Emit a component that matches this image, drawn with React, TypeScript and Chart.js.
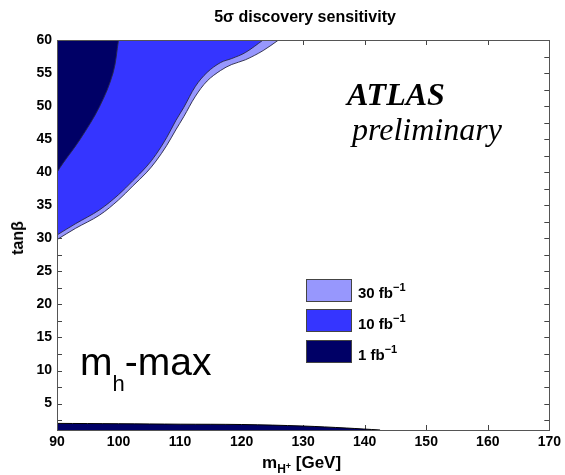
import React, { useEffect, useRef } from "react";
import { Chart, registerables } from "chart.js";

Chart.register(...registerables);

// Axis ticks
const xTicks = [90, 100, 110, 120, 130, 140, 150, 160, 170];
const yTicks = [5, 10, 15, 20, 25, 30, 35, 40, 45, 50, 55, 60];
const yMinorTicks = [2.5, 5, 7.5, 10, 12.5, 15, 17.5, 20, 22.5, 25, 27.5, 30, 32.5, 35, 37.5, 40, 42.5, 45, 47.5, 50, 52.5, 55, 57.5];

// 30 fb^-1 contour (region above-left of the line)
const lightX = [90, 93, 96.9, 100, 102.3, 104.5, 106.1, 107.8, 109.3, 110.6, 112.5, 114.4, 116.6, 118.4, 120.6, 123.5, 126];
const lightY = [29.8, 31.5, 33.5, 35.8, 37.9, 39.9, 41.7, 44.0, 46.4, 48.4, 51.5, 53.8, 55.4, 56.3, 57.0, 58.4, 60];

// 10 fb^-1 contour
const blueX = [90, 93, 96.9, 100, 102.3, 104.5, 106.1, 107.8, 109.3, 110.6, 112.5, 114.4, 116.6, 118.4, 120.6, 123.5];
const blueY = [30.5, 32.2, 34.3, 36.6, 38.7, 40.8, 42.7, 45.2, 47.8, 49.8, 53.0, 55.1, 56.6, 57.2, 58.1, 60];

// 1 fb^-1 contour (upper left)
const darkX = [90, 91, 93.7, 96.9, 99.1, 100];
const darkY = [40, 41.4, 44.9, 49.9, 55, 60];

// 1 fb^-1 contour (low tanβ band)
const bandX = [90, 100, 110, 120, 130, 137, 142.5];
const bandY = [2.0, 1.95, 1.88, 1.83, 1.6, 1.3, 1.0];

const SANS = "'Liberation Sans', Arial, Helvetica, sans-serif";
const SERIF = "'Liberation Serif', 'Times New Roman', serif";

const LIGHT = "#9797FD";
const BLUE = "#3535FF";
const DARK = "#000066";
const EDGE = "rgba(40,40,70,0.9)";

const toPts = (xs: number[], ys: number[]) => xs.map((x, i) => ({ x, y: ys[i] }));

function Txt(props: { x: number; base: number; size: number; children: any; style?: any; center?: boolean }) {
  const { x, base, size, children, style, center } = props;
  return (
    <div
      style={{
        position: "absolute",
        left: x,
        top: base - 0.85 * size,
        fontSize: size,
        lineHeight: `${size}px`,
        whiteSpace: "nowrap",
        transform: center ? "translateX(-50%)" : undefined,
        color: "#000",
        ...style,
      }}
    >
      {children}
    </div>
  );
}

export default function App() {
  const ref = useRef<HTMLCanvasElement>(null);

  useEffect(() => {
    document.body.style.margin = "0";
    const canvas = ref.current!;
    const framePlugin = {
      id: "frame",
      beforeDatasetsDraw(chart: any) {
        const { ctx, chartArea, scales } = chart;
        const { left, right, top, bottom } = chartArea;
        ctx.save();
        ctx.strokeStyle = "#444";
        ctx.lineWidth = 1;
        ctx.beginPath();
        xTicks.forEach((v) => {
          const px = Math.round(scales.x.getPixelForValue(v)) + 0.5;
          ctx.moveTo(px, bottom);
          ctx.lineTo(px, bottom - 5);
          ctx.moveTo(px, top);
          ctx.lineTo(px, top + 5);
        });
        yMinorTicks.forEach((v) => {
          const py = Math.round(scales.y.getPixelForValue(v)) + 0.5;
          ctx.moveTo(left, py);
          ctx.lineTo(left + 5, py);
          ctx.moveTo(right, py);
          ctx.lineTo(right - 5, py);
        });
        ctx.stroke();
        ctx.restore();
      },
      afterDatasetsDraw(chart: any) {
        const { ctx, chartArea } = chart;
        const { left, right, top, bottom } = chartArea;
        ctx.save();
        ctx.strokeStyle = "#555";
        ctx.lineWidth = 1;
        ctx.strokeRect(Math.round(left) + 0.5, Math.round(top) + 0.5, Math.round(right - left), Math.round(bottom - top));
        ctx.restore();
      },
    };

    const common = { showLine: true, pointRadius: 0, borderWidth: 1, borderColor: EDGE, tension: 0.35 };

    const chart = new Chart(canvas, {
      type: "scatter",
      data: {
        datasets: [
          { ...common, data: toPts(lightX, lightY), backgroundColor: LIGHT, fill: "end", order: 4 },
          { ...common, data: toPts(blueX, blueY), backgroundColor: BLUE, fill: "end", order: 3 },
          { ...common, data: toPts(darkX, darkY), backgroundColor: DARK, fill: "end", order: 2 },
          { ...common, data: toPts(bandX, bandY), backgroundColor: DARK, borderColor: "#000", fill: "start", order: 1 },
        ] as any,
      },
      options: {
        responsive: false,
        animation: false,
        devicePixelRatio: 1,
        layout: { padding: { left: 0, right: 12, top: 40, bottom: 0 } },
        plugins: { legend: { display: false }, tooltip: { enabled: false }, title: { display: false } },
        scales: {
          x: {
            type: "linear",
            min: 90,
            max: 170,
            grid: { display: false, drawTicks: false },
            border: { display: false },
            ticks: { stepSize: 10, color: "#000", padding: 4, font: { family: SANS, size: 14, weight: "bold" } },
            afterBuildTicks: (s: any) => {
              s.ticks = xTicks.map((v) => ({ value: v }));
            },
            afterFit: (s: any) => {
              s.height = 45;
            },
          },
          y: {
            type: "linear",
            min: 1,
            max: 60,
            grid: { display: false, drawTicks: false },
            border: { display: false },
            ticks: { color: "#000", padding: 5, font: { family: SANS, size: 14, weight: "bold" } },
            afterBuildTicks: (s: any) => {
              s.ticks = yTicks.map((v) => ({ value: v }));
            },
            afterFit: (s: any) => {
              s.width = 57;
            },
          },
        },
      } as any,
      plugins: [framePlugin],
    });
    return () => chart.destroy();
  }, []);

  const legendBox = (top: number, color: string) => (
    <div
      style={{
        position: "absolute",
        left: 306,
        top,
        width: 44,
        height: 21,
        background: color,
        border: "1px solid #444",
      }}
    />
  );

  const legendText = (base: number, num: string) => (
    <Txt x={358} base={base} size={15} style={{ fontFamily: SANS, fontWeight: "bold" }}>
      {num} fb
      <span style={{ fontSize: 11, position: "relative", top: -7 }}>{"\u22121"}</span>
    </Txt>
  );

  return (
    <div style={{ position: "relative", width: 565, height: 475, background: "#fff", overflow: "hidden" }}>
      <canvas ref={ref} width={565} height={475} style={{ display: "block", width: 565, height: 475 }} />

      {/* title */}
      <Txt x={305} base={23} size={16} center style={{ fontFamily: SANS, fontWeight: "bold" }}>
        5σ discovery sensitivity
      </Txt>

      {/* y axis title */}
      <div
        style={{
          position: "absolute",
          left: 18,
          top: 238,
          transform: "translate(-50%, -50%) rotate(-90deg)",
          fontFamily: SANS,
          fontWeight: "bold",
          fontSize: 16,
          lineHeight: "16px",
          whiteSpace: "nowrap",
        }}
      >
        tanβ
      </div>

      {/* x axis title */}
      <Txt x={262} base={468} size={17} style={{ fontFamily: SANS, fontWeight: "bold" }}>
        m
        <span style={{ fontSize: 12, position: "relative", top: 5 }}>H</span>
        <span style={{ fontSize: 9, position: "relative", top: 1 }}>+</span> [GeV]
      </Txt>

      {/* ATLAS preliminary */}
      <Txt x={347} base={105} size={32} style={{ fontFamily: SERIF, fontWeight: "bold", fontStyle: "italic" }}>
        ATLAS
      </Txt>
      <Txt x={352} base={140} size={32} style={{ fontFamily: SERIF, fontStyle: "italic" }}>
        preliminary
      </Txt>

      {/* mh-max */}
      <Txt x={80} base={375} size={39} style={{ fontFamily: SANS }}>
        m<span style={{ fontSize: 22, position: "relative", top: 16 }}>h</span>-max
      </Txt>

      {/* legend */}
      {legendBox(279, LIGHT)}
      {legendBox(309, BLUE)}
      {legendBox(340, DARK)}
      {legendText(298, "30")}
      {legendText(329, "10")}
      {legendText(360, "1")}
    </div>
  );
}
